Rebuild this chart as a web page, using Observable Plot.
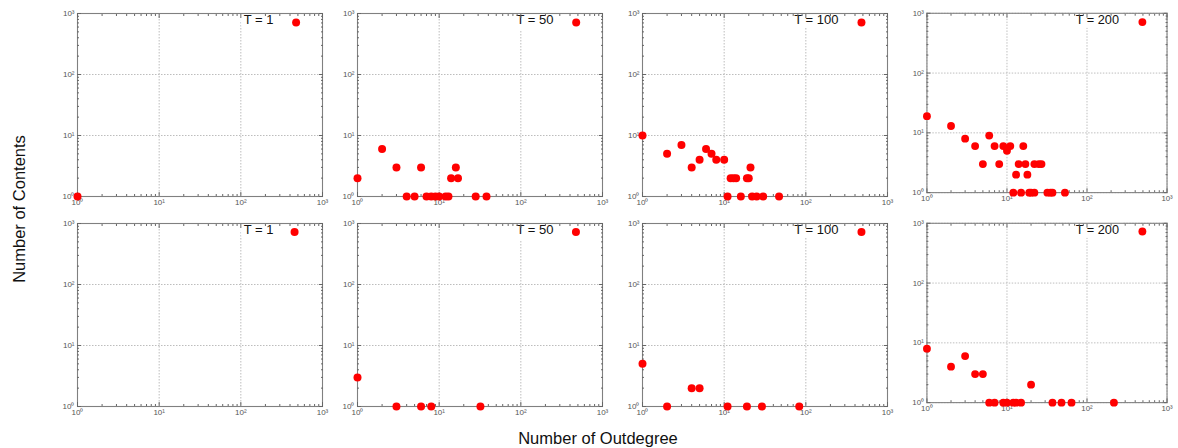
<!DOCTYPE html>
<html>
<head>
<meta charset="utf-8">
<script src="https://cdn.jsdelivr.net/npm/d3@7"></script>
<script src="https://cdn.jsdelivr.net/npm/@observablehq/plot@0.6"></script>
<style>
  html, body { margin: 0; padding: 0; background: #fff; }
  body { font-family: "Liberation Sans", Arial, sans-serif; }
  #chart { position: relative; width: 1178px; height: 448px; overflow: hidden; background: #fff; }
  .panel { position: absolute; }
  .panel svg { overflow: visible; }
  #ylab { position: absolute; left: 19px; top: 209px; transform: translate(-50%, -50%) rotate(-90deg);
          font-size: 16.5px; white-space: nowrap; color: #111; }
  #xlab { position: absolute; left: 598px; top: 438px; transform: translate(-50%, -50%);
          font-size: 16.5px; white-space: nowrap; color: #111; }
</style>
</head>
<body>
<div id="chart">
  <div id="ylab"></div>
  <div id="xlab"></div>
</div>
<script>
// ---------- data ----------
const xTitle = "Number of Outdegree";
const yTitle = "Number of Contents";
const panelLabels = ["T = 1", "T = 50", "T = 100", "T = 200"];
const tickValues = [1, 10, 100, 1000];
const tickLabels = ["10⁰", "10¹", "10²", "10³"];

// top row
const top1X = [1, 475];
const top1Y = [1, 715];
const top50X = [1, 2, 3, 4, 5, 6, 7, 8, 9, 10, 12, 13, 14, 16, 17, 28, 38, 476];
const top50Y = [2, 6, 3, 1, 1, 3, 1, 1, 1, 1, 1, 1, 2, 3, 2, 1, 1, 713];
const top100X = [1, 2, 3, 4, 5, 6, 7, 8, 10, 11, 12, 13, 14, 16, 19, 20, 21, 22, 25, 30, 47, 480];
const top100Y = [10, 5, 7, 3, 4, 6, 5, 4, 4, 1, 2, 2, 2, 1, 2, 2, 3, 1, 1, 1, 1, 713];
const top200X = [1, 2, 3, 4, 5, 6, 7, 8, 9, 10, 11, 12, 13, 14, 15, 16, 17, 18, 19, 20, 22, 22, 25, 27, 32, 35, 37, 53, 492];
const top200Y = [19, 13, 8, 6, 3, 9, 6, 3, 6, 5, 6, 1, 2, 3, 1, 6, 3, 2, 1, 1, 1, 3, 3, 3, 1, 1, 1, 1, 713];

// bottom row
const bot1X = [455];
const bot1Y = [728];
const bot50X = [1, 3, 6, 8, 32, 473];
const bot50Y = [3, 1, 1, 1, 1, 728];
const bot100X = [1, 2, 4, 5, 11, 19, 29, 83, 480];
const bot100Y = [5, 1, 2, 2, 1, 1, 1, 1, 728];
const bot200X = [1, 2, 3, 4, 5, 6, 7, 9, 10, 12, 13, 15, 20, 37, 48, 64, 217, 492];
const bot200Y = [8, 4, 6, 3, 3, 1, 1, 1, 1, 1, 1, 1, 2, 1, 1, 1, 1, 728];

const panels = [
  {row: 0, col: 0, label: panelLabels[0], xs: top1X, ys: top1Y},
  {row: 0, col: 1, label: panelLabels[1], xs: top50X, ys: top50Y},
  {row: 0, col: 2, label: panelLabels[2], xs: top100X, ys: top100Y},
  {row: 0, col: 3, label: panelLabels[3], xs: top200X, ys: top200Y},
  {row: 1, col: 0, label: panelLabels[0], xs: bot1X, ys: bot1Y},
  {row: 1, col: 1, label: panelLabels[1], xs: bot50X, ys: bot50Y},
  {row: 1, col: 2, label: panelLabels[2], xs: bot100X, ys: bot100Y},
  {row: 1, col: 3, label: panelLabels[3], xs: bot200X, ys: bot200Y}
];

// ---------- layout ----------
const colLeft = [77.3, 356.7, 641.7, 926.7];
const rowTop = [13.3, 222.7];
const frameW = 245, frameH = 183;
const mL = 28, mR = 12, mT = 10, mB = 18;

document.getElementById("ylab").textContent = yTitle;
document.getElementById("xlab").textContent = xTitle;

const minorTicks = d3.scaleLog().domain([1, 1000]).ticks().filter(v => !tickValues.includes(v));
const fmt = d => tickLabels[tickValues.indexOf(d)];
const axisColor = "#666";
const labelColor = "#555";

const chart = document.getElementById("chart");
for (const p of panels) {
  const data = p.xs.map((x, i) => ({x, y: p.ys[i]}));
  const svg = Plot.plot({
    width: frameW + mL + mR,
    height: frameH + mT + mB,
    marginLeft: mL, marginRight: mR, marginTop: mT, marginBottom: mB,
    style: {background: "transparent", fontFamily: "'Liberation Sans', Arial, sans-serif", overflow: "visible"},
    x: {type: "log", domain: [1, 1000], label: null},
    y: {type: "log", domain: [1, 1000], label: null},
    marks: [
      Plot.gridX({ticks: tickValues, stroke: "#bdbdbd", strokeOpacity: 1, strokeDasharray: "1.5,1.5"}),
      Plot.gridY({ticks: tickValues, stroke: "#bdbdbd", strokeOpacity: 1, strokeDasharray: "1.5,1.5"}),
      Plot.text([p.label], {text: d => d, frameAnchor: "top-right", dx: -49, dy: 1.5,
        textAnchor: "end", lineAnchor: "top", fontSize: 13, fill: "#111",
        stroke: "white", strokeWidth: 12}),
      Plot.frame({stroke: "#808080", strokeWidth: 1.1}),
      // inward major ticks on all sides
      Plot.axisX({anchor: "bottom", ticks: tickValues, tickSize: -4, fill: "none", stroke: axisColor, label: null}),
      Plot.axisX({anchor: "top", ticks: tickValues, tickSize: -4, fill: "none", stroke: axisColor, label: null}),
      Plot.axisY({anchor: "left", ticks: tickValues, tickSize: -4, fill: "none", stroke: axisColor, label: null}),
      Plot.axisY({anchor: "right", ticks: tickValues, tickSize: -4, fill: "none", stroke: axisColor, label: null}),
      // inward minor ticks
      Plot.axisX({anchor: "bottom", ticks: minorTicks, tickSize: -2, fill: "none", stroke: axisColor, label: null}),
      Plot.axisX({anchor: "top", ticks: minorTicks, tickSize: -2, fill: "none", stroke: axisColor, label: null}),
      Plot.axisY({anchor: "left", ticks: minorTicks, tickSize: -2, fill: "none", stroke: axisColor, label: null}),
      Plot.axisY({anchor: "right", ticks: minorTicks, tickSize: -2, fill: "none", stroke: axisColor, label: null}),
      // tick labels
      Plot.axisX({anchor: "bottom", ticks: tickValues, tickSize: 0, tickPadding: 3, tickFormat: fmt,
        fontSize: 8, fill: labelColor, label: null}),
      Plot.axisY({anchor: "left", ticks: tickValues, tickSize: 0, tickPadding: 3, tickFormat: fmt,
        fontSize: 8, fill: labelColor, label: null}),
      Plot.dot(data, {x: "x", y: "y", r: 4, fill: "#ff0000", stroke: "none"})
    ]
  });
  const wrap = document.createElement("div");
  wrap.className = "panel";
  wrap.style.left = (colLeft[p.col] - mL) + "px";
  wrap.style.top = (rowTop[p.row] - mT) + "px";
  wrap.appendChild(svg);
  chart.appendChild(wrap);
}
</script>
</body>
</html>
